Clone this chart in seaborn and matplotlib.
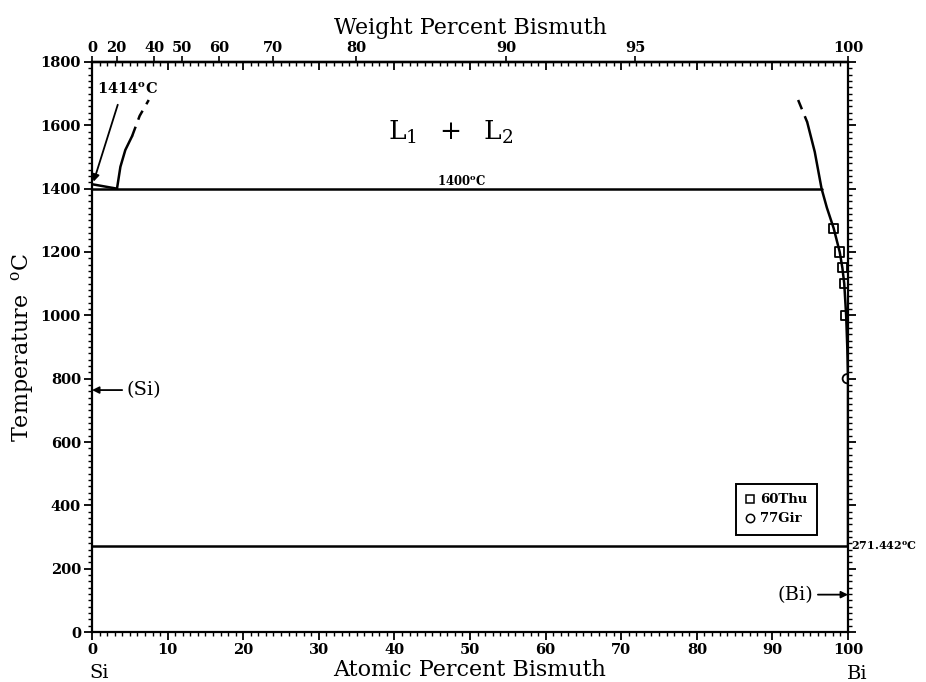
import numpy as np
import pandas as pd
import matplotlib
matplotlib.use("Agg")
import matplotlib.pyplot as plt
from matplotlib.ticker import MultipleLocator, FixedLocator
from matplotlib.lines import Line2D
import seaborn as sns

M_SI = 28.0855
M_BI = 208.98

# liquidus do Si (1414 -> monotetico)
si_liq_x = [0.0, 3.3]
si_liq_t = [1414, 1400]

# fronteira L1 (solida e tracejada)
l1_x = [3.3, 3.75, 4.4, 5.3]
l1_t = [1400, 1469, 1522, 1566]
l1_dash_x = [5.3, 6.3, 7.5]
l1_dash_t = [1566, 1630, 1680]

# fronteira L2 / liquidus do Bi
l2_dash_x = [93.4, 94.0, 94.6]
l2_dash_t = [1680, 1645, 1610]
l2_x = [94.6, 95.6, 96.5, 97.2, 98.1, 98.9, 99.25, 99.5, 99.75, 99.9, 100.0, 100.0]
l2_t = [1610, 1516, 1400, 1340, 1275, 1200, 1150, 1100, 1000, 900, 800, 271.442]

# linhas invariantes
monotetica_x = [0.0, 96.5]
monotetica_t = [1400, 1400]
eutetica_x = [0.0, 100.0]
eutetica_t = [271.442, 271.442]

# pontos experimentais
thu_x = [98.1, 98.9, 99.25, 99.5, 99.75]
thu_t = [1275, 1200, 1150, 1100, 1000]
gir_x = [99.9]
gir_t = [800]

wt_ticks = [0, 20, 40, 50, 60, 70, 80, 90, 95, 100]


def at_to_wt(a):
    a = np.asarray(a, dtype=float)
    with np.errstate(divide="ignore", invalid="ignore"):
        return 100 * a * M_BI / (a * M_BI + (100 - a) * M_SI)


def wt_to_at(w):
    w = np.asarray(w, dtype=float)
    with np.errstate(divide="ignore", invalid="ignore"):
        return 100 * (w / M_BI) / (w / M_BI + (100 - w) / M_SI)


sns.set_theme(style="ticks")
plt.rcParams["font.family"] = ["DejaVu Serif"]
plt.rcParams["mathtext.fontset"] = "dejavuserif"
plt.rcParams["axes.linewidth"] = 1.6
plt.rcParams["axes.edgecolor"] = "black"
plt.rcParams["text.color"] = "black"
plt.rcParams["axes.labelcolor"] = "black"
plt.rcParams["xtick.color"] = "black"
plt.rcParams["ytick.color"] = "black"

fig = plt.figure(figsize=(9.26, 6.82), dpi=100)
ax = fig.add_axes([0.0994, 0.0733, 0.8164, 0.8358])

preto = "black"
lw = 1.8


def linha(x, t, estilo="-"):
    df = pd.DataFrame({"x": x, "t": t})
    sns.lineplot(data=df, x="x", y="t", sort=False, estimator=None, ax=ax,
                 color=preto, linewidth=lw, linestyle=estilo)


linha(si_liq_x, si_liq_t)
linha(l1_x, l1_t)
linha(l1_dash_x, l1_dash_t, (0, (4, 3)))
linha(l2_dash_x, l2_dash_t, (0, (4, 3)))
linha(l2_x, l2_t)
linha(monotetica_x, monotetica_t)
linha(eutetica_x, eutetica_t)

sns.scatterplot(x=thu_x, y=thu_t, marker="s", s=45, facecolor="none",
                edgecolor=preto, linewidth=1.3, ax=ax, zorder=5)
sns.scatterplot(x=gir_x, y=gir_t, marker="o", s=45, facecolor="none",
                edgecolor=preto, linewidth=1.3, ax=ax, zorder=5)

ax.set_xlim(0, 100)
ax.set_ylim(0, 1800)

# eixos principais
ax.xaxis.set_major_locator(MultipleLocator(10))
ax.xaxis.set_minor_locator(MultipleLocator(1))
ax.yaxis.set_major_locator(MultipleLocator(200))
ax.yaxis.set_minor_locator(MultipleLocator(20))
ax.tick_params(axis="x", which="major", direction="out", length=6, width=1.3,
               labelsize=10.5, pad=2)
ax.tick_params(axis="x", which="minor", direction="out", length=3, width=1)
ax.tick_params(axis="y", which="major", direction="out", length=6, width=1.3,
               labelsize=10.5, right=True, pad=2)
ax.tick_params(axis="y", which="minor", direction="out", length=3, width=1, right=True)
for lab in ax.get_xticklabels() + ax.get_yticklabels():
    lab.set_fontweight("bold")

# ticks internos no topo (escala atomica)
topo_at = ax.secondary_xaxis("top")
topo_at.xaxis.set_major_locator(MultipleLocator(10))
topo_at.xaxis.set_minor_locator(MultipleLocator(1))
topo_at.tick_params(which="major", direction="in", length=6, width=1.3, labeltop=False)
topo_at.tick_params(which="minor", direction="in", length=3, width=1)

# escala em porcentagem de peso
topo_wt = ax.secondary_xaxis("top", functions=(at_to_wt, wt_to_at))
topo_wt.xaxis.set_major_locator(FixedLocator(wt_ticks))
topo_wt.xaxis.set_minor_locator(FixedLocator([]))
topo_wt.tick_params(direction="out", length=4, width=1.2, labelsize=10.5, pad=1)
topo_wt.set_xticklabels([str(v) for v in wt_ticks], fontweight="bold")
topo_wt.set_xlabel("Weight Percent Bismuth", fontsize=16, labelpad=5)

ax.set_xlabel("Atomic Percent Bismuth", fontsize=16, labelpad=1)
ax.set_ylabel("Temperature  $^{\\mathrm{o}}$C", fontsize=16, labelpad=3)

# anotacoes
ax.text(47.5, 1578, r"$\mathrm{L_1\ \ +\ \ L_2}$", fontsize=19, ha="center", va="center")
ax.text(48.9, 1403, r"1400$^{\mathbf{o}}$C", fontsize=8.5, fontweight="bold",
        ha="center", va="bottom")
ax.text(0.7, 1712, r"1414$^{\mathbf{o}}$C", fontsize=10.5, fontweight="bold",
        ha="left", va="center")
ax.annotate("", xy=(0.2, 1422), xytext=(3.4, 1665),
            arrowprops=dict(arrowstyle="-|>", color=preto, lw=1.3, mutation_scale=10,
                            shrinkA=0, shrinkB=0))
ax.annotate("(Si)", xy=(0.0, 764), xytext=(4.6, 764), fontsize=14,
            ha="left", va="center",
            arrowprops=dict(arrowstyle="-|>", color=preto, lw=1.3, mutation_scale=10,
                            shrinkA=1, shrinkB=0))
ax.annotate("(Bi)", xy=(100.0, 118), xytext=(95.4, 118), fontsize=14,
            ha="right", va="center",
            arrowprops=dict(arrowstyle="-|>", color=preto, lw=1.3, mutation_scale=10,
                            shrinkA=1, shrinkB=0))
ax.text(100.4, 271.442, r"271.442$^{\mathbf{o}}$C", fontsize=8, fontweight="bold",
        ha="left", va="center", clip_on=False)
ax.text(-0.3, -0.072, "Si", fontsize=14, ha="left", va="center",
        transform=ax.get_xaxis_transform(), clip_on=False)
ax.text(99.9, -0.074, "Bi", fontsize=14, ha="left", va="center",
        transform=ax.get_xaxis_transform(), clip_on=False)

# legenda
itens = [
    Line2D([], [], marker="s", linestyle="none", markerfacecolor="none",
           markeredgecolor=preto, markersize=6, markeredgewidth=1.1, label="60Thu"),
    Line2D([], [], marker="o", linestyle="none", markerfacecolor="none",
           markeredgecolor=preto, markersize=6, markeredgewidth=1.1, label="77Gir"),
]
leg = ax.legend(handles=itens, loc="upper left", bbox_to_anchor=(0.843, 0.272),
                frameon=True, fancybox=False, edgecolor=preto, framealpha=1,
                handlelength=0.7, handletextpad=0.4, borderpad=0.75,
                labelspacing=0.45, prop={"weight": "bold", "size": 9.5})
leg.get_frame().set_linewidth(1.4)

fig.savefig("out.png", dpi=100)
